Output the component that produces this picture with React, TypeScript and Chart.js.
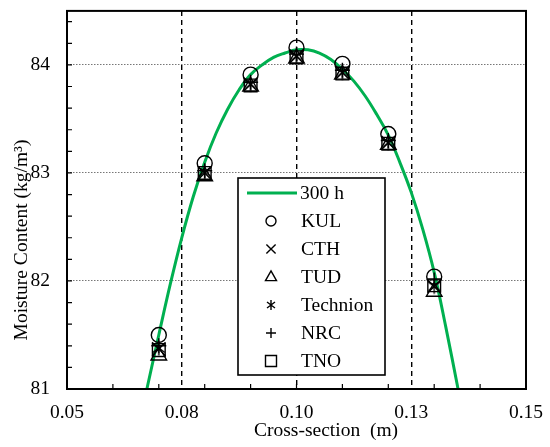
import React, { useEffect, useRef } from 'react';
import { Chart, registerables } from 'chart.js';

Chart.register(...registerables);

const FONT = "'Liberation Serif', 'Times New Roman', serif";

// ---- data ----
const xPositions = [0.07, 0.08, 0.09, 0.10, 0.11, 0.12, 0.13];
const kul = [81.50, 83.09, 83.91, 84.16, 84.01, 83.36, 82.04];
const cth = [81.37, 83.00, 83.82, 84.08, 83.93, 83.28, 81.95];
const tud = [81.31, 82.97, 83.80, 84.06, 83.91, 83.26, 81.90];
const technion = [81.38, 83.01, 83.82, 84.08, 83.93, 83.28, 81.95];
const nrc = [81.40, 83.02, 83.84, 84.10, 83.95, 83.30, 82.01];
const tno = [81.36, 83.00, 83.81, 84.07, 83.92, 83.27, 81.96];

const curveX = [0.0674, 0.0700, 0.0725, 0.0750, 0.0775, 0.0800, 0.0825, 0.0850, 0.0875, 0.0900, 0.0925, 0.0950, 0.0975, 0.1000, 0.1025, 0.1050, 0.1075, 0.1100, 0.1125, 0.1150, 0.1175, 0.1200, 0.1225, 0.1250, 0.1275, 0.1300, 0.1325, 0.1352];
const curveY = [81.00, 81.50, 81.97, 82.40, 82.78, 83.10, 83.37, 83.59, 83.77, 83.91, 84.00, 84.07, 84.11, 84.14, 84.14, 84.11, 84.05, 83.96, 83.85, 83.71, 83.54, 83.35, 83.10, 82.82, 82.48, 82.08, 81.58, 81.00];

const xTickLabels = ['0.05', '0.08', '0.10', '0.13', '0.15'];
const xMinorTicks = [0.06, 0.07, 0.08, 0.09, 0.10, 0.11, 0.12, 0.13, 0.14];
const yMinorTicks = [81.2, 81.4, 81.6, 81.8, 82.0, 82.2, 82.4, 82.6, 82.8, 83.0, 83.2, 83.4, 83.6, 83.8, 84.0, 84.2, 84.4];

const lineLabel = '300 h';
const seriesLabels = ['KUL', 'CTH', 'TUD', 'Technion', 'NRC', 'TNO'];
const seriesStyles = ['circle', 'crossRot', 'triangle', 'technion', 'cross', 'rect'];
const xTitle = 'Cross-section  (m)';
const yTitle = 'Moisture Content (kg/m\u00B3)';

const GREEN = '#00b050';

function makeTechnion(half: number) {
  const s = Math.ceil(half * 2 + 3);
  const c = document.createElement('canvas');
  c.width = s;
  c.height = s;
  const g = c.getContext('2d')!;
  g.strokeStyle = '#000';
  g.lineWidth = 1.4;
  const m = s / 2;
  g.beginPath();
  g.moveTo(m, m - half);
  g.lineTo(m, m + half);
  g.moveTo(m - half * 0.8, m - half * 0.6);
  g.lineTo(m + half * 0.8, m + half * 0.6);
  g.moveTo(m + half * 0.8, m - half * 0.6);
  g.lineTo(m - half * 0.8, m + half * 0.6);
  g.stroke();
  return c;
}

function drawShape(ctx: CanvasRenderingContext2D, style: string, x: number, y: number, h: number) {
  ctx.beginPath();
  switch (style) {
    case 'circle':
      ctx.arc(x, y, h, 0, Math.PI * 2);
      break;
    case 'crossRot':
      ctx.moveTo(x - h, y - h); ctx.lineTo(x + h, y + h);
      ctx.moveTo(x + h, y - h); ctx.lineTo(x - h, y + h);
      break;
    case 'triangle':
      ctx.moveTo(x, y - h * 1.1);
      ctx.lineTo(x + h, y + h * 0.65);
      ctx.lineTo(x - h, y + h * 0.65);
      ctx.closePath();
      break;
    case 'technion':
      ctx.moveTo(x, y - h); ctx.lineTo(x, y + h);
      ctx.moveTo(x - h * 0.8, y - h * 0.6); ctx.lineTo(x + h * 0.8, y + h * 0.6);
      ctx.moveTo(x + h * 0.8, y - h * 0.6); ctx.lineTo(x - h * 0.8, y + h * 0.6);
      break;
    case 'cross':
      ctx.moveTo(x - h, y); ctx.lineTo(x + h, y);
      ctx.moveTo(x, y - h); ctx.lineTo(x, y + h);
      break;
    case 'rect':
      ctx.rect(x - h, y - h, 2 * h, 2 * h);
      break;
  }
  ctx.stroke();
}

const legendShapeSize: Record<string, number> = {
  circle: 5, crossRot: 4.6, triangle: 5.5, technion: 5, cross: 5, rect: 5.5,
};

const decorPlugin = {
  id: 'decor',
  afterDraw(chart: any) {
    const ctx: CanvasRenderingContext2D = chart.ctx;
    const { left, right, top, bottom } = chart.chartArea;
    const xs = chart.scales.x;
    const ys = chart.scales.y;
    ctx.save();
    ctx.strokeStyle = '#000';
    ctx.lineWidth = 1.2;
    ctx.setLineDash([]);
    ctx.beginPath();
    xMinorTicks.forEach((v) => {
      const px = xs.getPixelForValue(v);
      ctx.moveTo(px, bottom);
      ctx.lineTo(px, bottom - 5);
    });
    yMinorTicks.forEach((v) => {
      const py = ys.getPixelForValue(v);
      ctx.moveTo(left, py);
      ctx.lineTo(left + 5, py);
    });
    ctx.stroke();
    ctx.lineWidth = 2;
    ctx.strokeRect(left, top, right - left, bottom - top);

    ctx.fillStyle = '#000';
    ctx.font = `19.5px ${FONT}`;
    ctx.textAlign = 'left';
    ctx.textBaseline = 'alphabetic';
    ctx.fillText(xTitle, 254, 436);
    ctx.save();
    ctx.translate(27, 240);
    ctx.rotate(-Math.PI / 2);
    ctx.textAlign = 'center';
    ctx.fillText(yTitle, 0, 0);
    ctx.restore();

    const bx = 238, by = 178, bw = 147, bh = 197;
    ctx.fillStyle = '#fff';
    ctx.fillRect(bx, by, bw, bh);
    ctx.lineWidth = 1.6;
    ctx.strokeStyle = '#000';
    ctx.strokeRect(bx, by, bw, bh);
    const rowH = 28;
    const firstY = 193;
    ctx.font = `19.5px ${FONT}`;
    ctx.textBaseline = 'middle';
    ctx.textAlign = 'left';
    ctx.strokeStyle = GREEN;
    ctx.lineWidth = 3;
    ctx.beginPath();
    ctx.moveTo(247, firstY);
    ctx.lineTo(297, firstY);
    ctx.stroke();
    ctx.fillStyle = '#000';
    ctx.fillText(lineLabel, 300, firstY + 1);
    seriesLabels.forEach((lab, i) => {
      const yy = firstY + rowH * (i + 1);
      ctx.strokeStyle = '#000';
      ctx.lineWidth = 1.4;
      drawShape(ctx, seriesStyles[i], 271, yy, legendShapeSize[seriesStyles[i]]);
      ctx.fillText(lab, 301, yy + 1);
    });
    ctx.restore();
  },
};

function zeroPadding(s: any) {
  s.paddingTop = 0;
  s.paddingBottom = 0;
  s.paddingLeft = 0;
  s.paddingRight = 0;
}

export default function App() {
  const ref = useRef<HTMLCanvasElement | null>(null);

  useEffect(() => {
    if (!ref.current) return;
    const techImg = makeTechnion(7.5);
    const seriesData = [kul, cth, tud, technion, nrc, tno];
    const pointStyles: any[] = ['circle', 'crossRot', 'triangle', techImg, 'cross', 'rect'];
    const radii = [7.5, 9.5, 9, 7.5, 7.5, 9];

    const datasets: any[] = seriesData.map((vals, i) => ({
      label: seriesLabels[i],
      data: xPositions.map((x, j) => ({ x, y: vals[j] })),
      showLine: false,
      pointStyle: pointStyles[i],
      pointRadius: radii[i],
      pointBorderColor: '#000',
      pointBackgroundColor: 'rgba(0,0,0,0)',
      pointBorderWidth: 1.4,
    }));
    datasets.push({
      label: lineLabel,
      data: curveX.map((x, j) => ({ x, y: curveY[j] })),
      showLine: true,
      borderColor: GREEN,
      borderWidth: 3,
      pointRadius: 0,
      tension: 0.4,
      fill: false,
    });

    const chart = new Chart(ref.current, {
      type: 'scatter',
      data: { datasets },
      options: {
        animation: false,
        responsive: true,
        maintainAspectRatio: false,
        layout: { padding: { left: 0, right: 24, top: 9, bottom: 0 } },
        plugins: {
          legend: { display: false },
          tooltip: { enabled: false },
        },
        scales: {
          x: {
            type: 'linear',
            min: 0.05,
            max: 0.15,
            afterFit: (s: any) => { s.height = 58; zeroPadding(s); },
            ticks: {
              stepSize: 0.025,
              autoSkip: false,
              maxRotation: 0,
              padding: 12,
              color: '#000',
              font: { family: FONT, size: 19.5 },
              callback: (_v: any, i: number) => xTickLabels[i] ?? '',
            },
            grid: {
              drawTicks: false,
              lineWidth: 1.4,
              color: (c: any) => {
                const n = c.chart.scales.x.ticks.length;
                return c.index === 0 || c.index === n - 1 ? 'rgba(0,0,0,0)' : '#000';
              },
            },
            border: { display: false, dash: [5, 4] },
          },
          y: {
            type: 'linear',
            min: 81,
            max: 84.5,
            afterFit: (s: any) => { s.width = 67; zeroPadding(s); },
            ticks: {
              stepSize: 1,
              includeBounds: false,
              autoSkip: false,
              padding: 17,
              color: '#000',
              font: { family: FONT, size: 19.5 },
              callback: (v: any) => String(v),
            },
            grid: {
              drawTicks: false,
              lineWidth: 1,
              color: (c: any) => (c.tick && c.tick.value === 81 ? 'rgba(0,0,0,0)' : '#777'),
            },
            border: { display: false, dash: [1.5, 1.5] },
          },
        },
      },
      plugins: [decorPlugin],
    });
    return () => chart.destroy();
  }, []);

  return (
    <div style={{ position: 'fixed', left: 0, top: 0, width: 550, height: 447, background: '#fff' }}>
      <canvas ref={ref} />
    </div>
  );
}
